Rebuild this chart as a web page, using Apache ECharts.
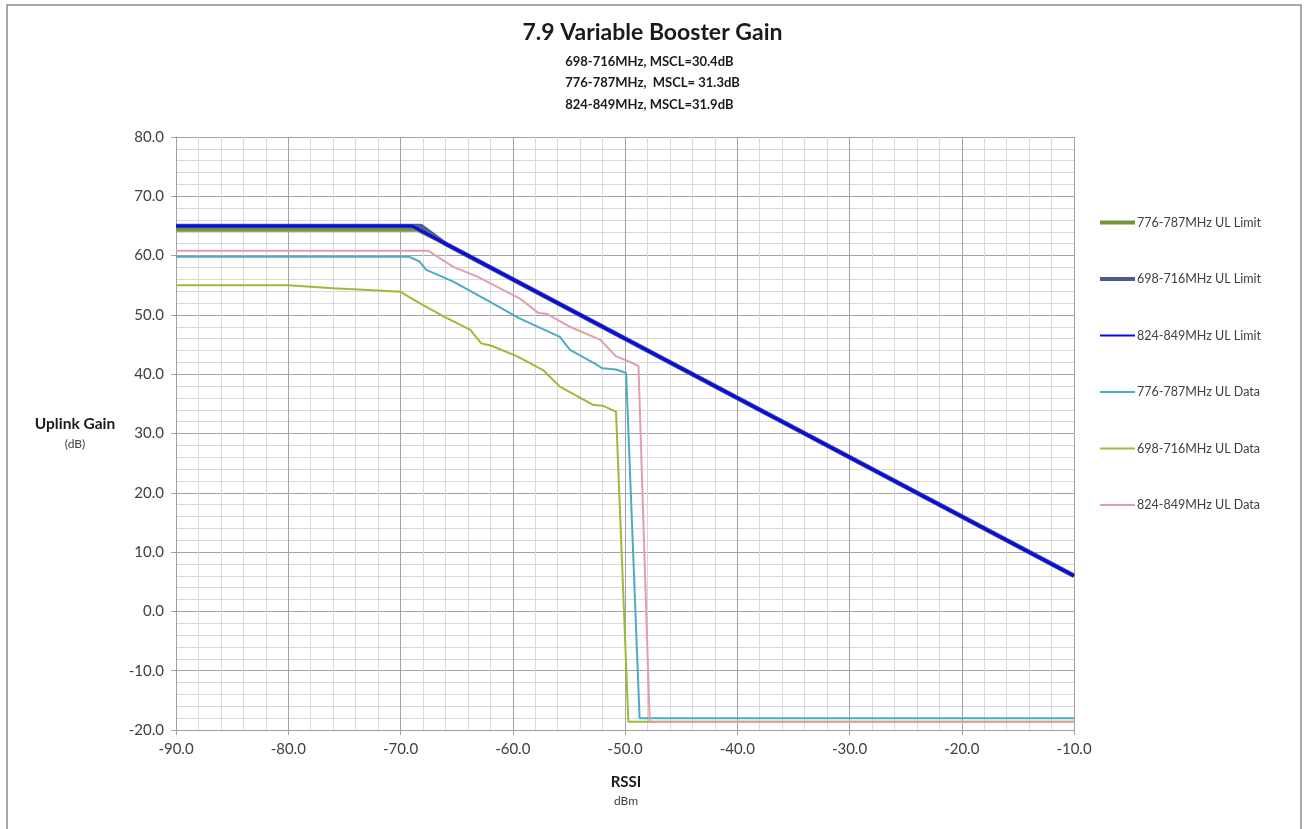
<!DOCTYPE html>
<html>
<head>
<meta charset="utf-8">
<title>7.9 Variable Booster Gain</title>
<script src="https://cdn.jsdelivr.net/npm/echarts@6/dist/echarts.min.js"></script>
<style>
  html, body { margin: 0; padding: 0; background: #ffffff; }
  #chart { width: 1305px; height: 829px; }
</style>
</head>
<body>
<div id="chart"></div>
<script>
// Uplink gain limits and measured gain versus RSSI (dBm -> dB)
const titleText = '7.9 Variable Booster Gain';
const subtitleLines = [
  '698-716MHz, MSCL=30.4dB',
  '776-787MHz,  MSCL= 31.3dB',
  '824-849MHz, MSCL=31.9dB'
];

const seriesNames = [
  '776-787MHz UL Limit',
  '698-716MHz UL Limit',
  '824-849MHz UL Limit',
  '776-787MHz UL Data',
  '698-716MHz UL Data',
  '824-849MHz UL Data'
];

// Limit curves
const limit776X = [-90, -68.5, -66.5, -10];
const limit776Y = [64.4, 64.4, 62.5, 6.0];
const limit698X = [-90, -68.2, -66, -10];
const limit698Y = [65.0, 65.0, 62.0, 6.0];
const limit824X = [-90, -69, -10];
const limit824Y = [65.0, 65.0, 6.0];

// Measured data
const data776X = [-90, -69.2, -68.3, -67.7, -65.3, -62.3, -59.4, -55.8, -54.9, -52.8, -52.0, -50.8, -49.9, -48.7, -10];
const data776Y = [59.8, 59.8, 59.0, 57.6, 55.6, 52.5, 49.4, 46.3, 44.1, 41.9, 41.0, 40.8, 40.2, -18.0, -18.0];
const data698X = [-90, -80, -76, -72, -70, -68.3, -66, -63.8, -62.8, -61.9, -59.6, -57.3, -55.8, -52.8, -52.0, -50.8, -49.7, -10];
const data698Y = [55.0, 55.0, 54.5, 54.1, 53.9, 52.0, 49.6, 47.5, 45.2, 44.8, 43.0, 40.7, 37.9, 34.8, 34.7, 33.7, -18.6, -18.6];
const data824X = [-90, -67.5, -65.3, -63.2, -59.4, -57.7, -57.0, -54.9, -52.2, -50.8, -49.6, -48.8, -47.8, -10];
const data824Y = [60.8, 60.8, 58.1, 56.5, 52.8, 50.3, 50.2, 48.0, 45.8, 43.0, 42.1, 41.4, -18.6, -18.6];

const xTickMin = -90, xTickMax = -10, xTickStep = 10;
const yTickMin = -20, yTickMax = 80, yTickStep = 10;

function pairs(xs, ys) { return xs.map((x, i) => [x, ys[i]]); }

const FONT = 'Lato, "Open Sans", sans-serif';
const TEXT_COLOR = '#404040';

// Per-series line look: colour and stroke width
const seriesColors = ['#77933c', '#4a5e8e', '#0a0ae6', '#4bacc6', '#9bbb3a', '#e0a0aa'];
const seriesWidths = [4.5, 4.5, 3, 2, 2, 2];
const legendWidths = [4, 4, 2, 2, 2, 2];

const chart = echarts.init(document.getElementById('chart'), null, { renderer: 'canvas' });

function lineSeries(i, data) {
  return {
    name: seriesNames[i],
    type: 'line',
    data: data,
    symbol: 'none',
    showSymbol: false,
    smooth: false,
    z: 2 + i,
    lineStyle: { color: seriesColors[i], width: seriesWidths[i] },
    itemStyle: { color: seriesColors[i] },
    emphasis: { disabled: true }
  };
}

const option = {
  backgroundColor: '#ffffff',
  animation: false,
  textStyle: { fontFamily: FONT },
  graphic: [
    { type: 'rect', shape: { x: 7, y: 5, width: 1294, height: 830 },
      style: { fill: 'none', stroke: '#8c8c8c', lineWidth: 1.5 }, silent: true, z: -10 },
    { type: 'text', left: 'center', top: 21,
      style: { text: titleText, font: 'bold 23px ' + FONT, fill: '#1a1a1a' } },
    { type: 'text', left: 'center', top: 51,
      style: { text: subtitleLines.join('\n'), font: 'bold 13px ' + FONT, fill: '#1a1a1a',
               lineHeight: 21.5, align: 'center' } },
    { type: 'text', x: 75, y: 416,
      style: { text: 'Uplink Gain', font: 'bold 15.5px ' + FONT, fill: '#1a1a1a', align: 'center' } },
    { type: 'text', x: 75, y: 438,
      style: { text: '(dB)', font: '12px ' + FONT, fill: TEXT_COLOR, align: 'center' } },
    { type: 'text', x: 626, y: 775,
      style: { text: 'RSSI', font: 'bold 15px ' + FONT, fill: '#1a1a1a', align: 'center' } },
    { type: 'text', x: 626, y: 795,
      style: { text: 'dBm', font: '12px ' + FONT, fill: TEXT_COLOR, align: 'center' } }
  ],
  legend: {
    orient: 'vertical',
    left: 1093,
    top: 211,
    itemWidth: 35,
    itemHeight: 14,
    itemGap: 43.5,
    data: seriesNames.map((n, i) => ({ name: n, lineStyle: { width: legendWidths[i] } })),
    itemStyle: { opacity: 0 },
    textStyle: { fontFamily: FONT, fontSize: 12.5, color: TEXT_COLOR, padding: [0, 0, 0, -3] },
    selectedMode: false
  },
  grid: { left: 176, right: 231, top: 137, bottom: 99, containLabel: false },
  xAxis: {
    type: 'value',
    min: xTickMin, max: xTickMax, interval: xTickStep,
    axisLine: { show: true, onZero: false, lineStyle: { color: '#a0a0a0', width: 1 } },
    axisTick: { show: true, length: 5, inside: false, lineStyle: { color: '#a0a0a0' } },
    minorTick: { show: false, splitNumber: 5 },
    axisLabel: { color: TEXT_COLOR, fontSize: 15, fontFamily: FONT, margin: 12,
                 formatter: v => v.toFixed(1) },
    splitLine: { show: true, lineStyle: { color: '#a3a3a3', width: 1 } },
    minorSplitLine: { show: true, lineStyle: { color: '#d9d9d9', width: 1 } }
  },
  yAxis: {
    type: 'value',
    min: yTickMin, max: yTickMax, interval: yTickStep,
    axisLine: { show: true, onZero: false, lineStyle: { color: '#a0a0a0', width: 1 } },
    axisTick: { show: true, length: 5, inside: false, lineStyle: { color: '#a0a0a0' } },
    minorTick: { show: false, splitNumber: 5 },
    axisLabel: { color: TEXT_COLOR, fontSize: 15, fontFamily: FONT, margin: 12,
                 formatter: v => v.toFixed(1) },
    splitLine: { show: true, lineStyle: { color: '#a3a3a3', width: 1 } },
    minorSplitLine: { show: true, lineStyle: { color: '#d9d9d9', width: 1 } }
  },
  series: [
    lineSeries(0, pairs(limit776X, limit776Y)),
    lineSeries(1, pairs(limit698X, limit698Y)),
    lineSeries(2, pairs(limit824X, limit824Y)),
    lineSeries(3, pairs(data776X, data776Y)),
    lineSeries(4, pairs(data698X, data698Y)),
    lineSeries(5, pairs(data824X, data824Y))
  ]
};

chart.setOption(option);
</script>
</body>
</html>
